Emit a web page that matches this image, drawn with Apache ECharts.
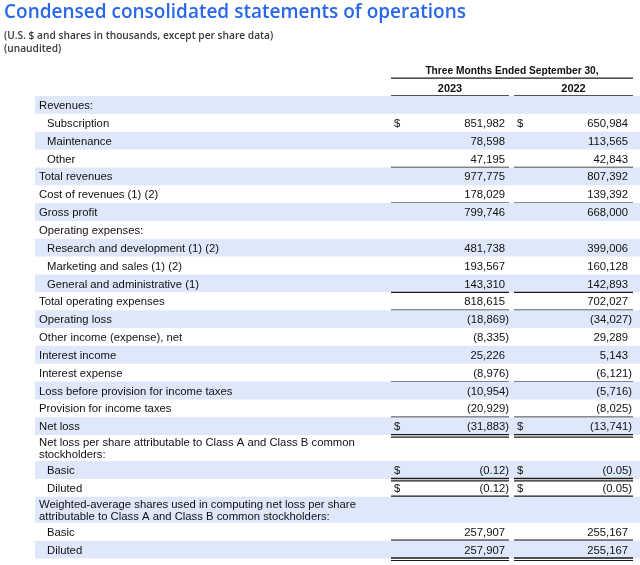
<!DOCTYPE html>
<html><head><meta charset="utf-8">
<script src="https://cdn.jsdelivr.net/npm/echarts@6/dist/echarts.min.js"></script>
<style>html,body{margin:0;padding:0;background:#fff}#c{width:640px;height:565px}</style>
</head><body><div id="c"></div>
<script>
// ---------- data ----------
const titleText = 'Condensed consolidated statements of operations';
const subtitleLines = ['(U.S. $ and shares in thousands, except per share data)', '(unaudited)'];
const periodHeader = 'Three Months Ended September 30,';
const years = ['2023', '2022'];
const rowLabels = [
  'Revenues:',
  'Subscription',
  'Maintenance',
  'Other',
  'Total revenues',
  'Cost of revenues (1) (2)',
  'Gross profit',
  'Operating expenses:',
  'Research and development (1) (2)',
  'Marketing and sales (1) (2)',
  'General and administrative (1)',
  'Total operating expenses',
  'Operating loss',
  'Other income (expense), net',
  'Interest income',
  'Interest expense',
  'Loss before provision for income taxes',
  'Provision for income taxes',
  'Net loss',
  'Net loss per share attributable to Class A and Class B common\nstockholders:',
  'Basic',
  'Diluted',
  'Weighted-average shares used in computing net loss per share\nattributable to Class A and Class B common stockholders:',
  'Basic',
  'Diluted'
];
const rowIndent = [0,1,1,1,0,0,0,0,1,1,1,0,0,0,0,0,0,0,0,0,1,1,0,1,1];
const values2023 = [null, 851982, 78598, 47195, 977775, 178029, 799746, null, 481738, 193567, 143310, 818615, -18869, -8335, 25226, -8976, -10954, -20929, -31883, null, -0.12, -0.12, null, 257907, 257907];
const values2022 = [null, 650984, 113565, 42843, 807392, 139392, 668000, null, 399006, 160128, 142893, 702027, -34027, 29289, 5143, -6121, -5716, -8025, -13741, null, -0.05, -0.05, null, 255167, 255167];
const dollarRows = [0,1,0,0,0,0,0,0,0,0,0,0,0,0,0,0,0,0,1,0,1,1,0,0,0];
const ruleBelow  = [0,0,0,1,0,1,0,0,0,0,1,1,0,0,0,1,0,1,2,0,2,2,0,2,2];

// ---------- layout ----------
const C = {
  band: '#dfe8fa', ink: '#111', rule: '#1a1a1a',
  bandLeft: 35, labelX: 39, indentX: 47,
  cols: [[391, 509], [514, 633]], numRight: [505, 628], dollarX: [394, 517],
  font: '11.3px "Liberation Sans", Arial, sans-serif',
  bold: 'bold 11px "Liberation Sans", Arial, sans-serif',
  boldSmall: 'bold 10.2px "Liberation Sans", Arial, sans-serif'
};
const DOUBLE = 1.457;

const fmt = v => {
  if (v == null) return '';
  const d = Number.isInteger(v) ? 0 : 2;
  const s = Math.abs(v).toLocaleString('en-US', {minimumFractionDigits: d, maximumFractionDigits: d});
  return v < 0 ? '(' + s + ')' : s;
};

// rows: header rows at negative positions, body rows cumulative
const rowData = [];
rowData.push([-2, -1, -1]);
rowData.push([-1, 0, -2]);
let acc = 0;
rowLabels.forEach((l, i) => {
  const span = l.indexOf('\n') >= 0 ? DOUBLE : 1;
  rowData.push([acc, acc + span, i]);
  acc += span;
});
const totalUnits = acc;

function text(x, y, str, font, align) {
  return { type: 'text', style: { x, y, text: str, font, fill: C.ink,
    textAlign: align, align: align, textVerticalAlign: 'middle', verticalAlign: 'middle', lineHeight: 12 } };
}
function line(x1, x2, y, w) {
  return { type: 'line', shape: { x1, y1: y, x2, y2: y }, style: { stroke: C.rule, lineWidth: w || 1.3 } };
}

function renderItem(params, api) {
  const y0 = api.coord([0, api.value(0)])[1];
  const y1 = api.coord([0, api.value(1)])[1];
  const id = api.value(2);
  const X = x => api.coord([x, 0])[0];
  const mid = (y0 + y1) / 2;
  const ch = [];
  if (id === -1) {
    ch.push(text(X((C.cols[0][0] + C.cols[1][1]) / 2), mid + 2, periodHeader, C.boldSmall, 'center'));
    ch.push(line(X(C.cols[0][0]), X(C.cols[1][1]), y1));
    return { type: 'group', children: ch };
  }
  if (id === -2) {
    years.forEach((yr, k) => {
      ch.push(text(X((C.cols[k][0] + C.cols[k][1]) / 2), mid + 2, yr, C.bold, 'center'));
      ch.push(line(X(C.cols[k][0]), X(C.cols[k][1]), y1));
    });
    return { type: 'group', children: ch };
  }
  if (id % 2 === 0) {
    ch.push({ type: 'rect', shape: { x: X(C.bandLeft), y: y0, width: X(640) - X(C.bandLeft), height: y1 - y0 }, style: { fill: C.band } });
  }
  const ty = mid + 1;
  ch.push(text(X(rowIndent[id] ? C.indentX : C.labelX), ty, rowLabels[id], C.font, 'left'));
  [values2023, values2022].forEach((arr, k) => {
    const v = arr[id];
    if (v != null) {
      ch.push(text(X(C.numRight[k] + (v < 0 ? 4 : 0)), ty, fmt(v), C.font, 'right'));
    }
    if (dollarRows[id]) ch.push(text(X(C.dollarX[k]), ty, '$', C.font, 'left'));
    if (ruleBelow[id] === 1) ch.push(line(X(C.cols[k][0]), X(C.cols[k][1]), y1));
    if (ruleBelow[id] === 2) {
      ch.push(line(X(C.cols[k][0]), X(C.cols[k][1]), y1 - 0.5, 1.4));
      ch.push(line(X(C.cols[k][0]), X(C.cols[k][1]), y1 + 2, 1.2));
    }
  });
  return { type: 'group', children: ch };
}

const chart = echarts.init(document.getElementById('c'), null, { renderer: 'canvas' });
chart.setOption({
  animation: false,
  backgroundColor: '#fff',
  title: {
    text: titleText, left: 4, top: 1, padding: 0, itemGap: 5,
    textStyle: { fontFamily: 'Open Sans', fontSize: 19, fontWeight: 600, color: '#2866ea', lineHeight: 24 },
    subtext: subtitleLines.join('\n'),
    subtextStyle: { fontFamily: 'Open Sans', fontSize: 10.2, fontWeight: 600, color: '#3a3a3a', lineHeight: 13 }
  },
  grid: { left: 0, right: 0, top: 96 - 2 * 17.85, bottom: 6.5 },
  xAxis: { type: 'value', min: 0, max: 640, show: false },
  yAxis: { type: 'value', inverse: true, min: -2, max: totalUnits, show: false },
  series: [{
    type: 'custom', renderItem, clip: false,
    encode: { x: -1, y: [0, 1] },
    data: rowData
  }]
});
</script></body></html>
